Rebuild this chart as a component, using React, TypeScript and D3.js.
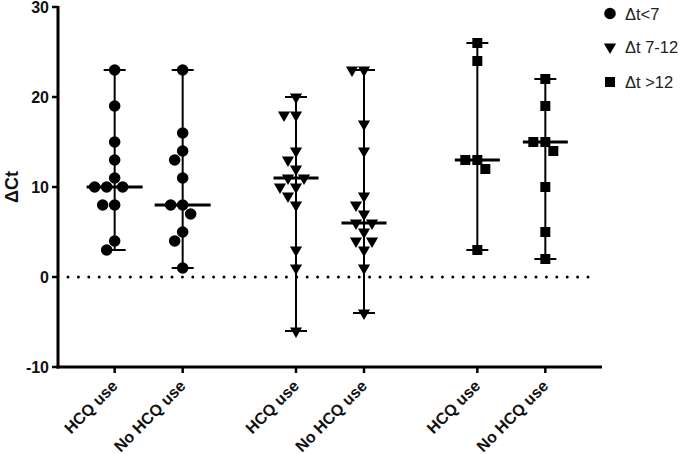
import React from 'react';
import * as d3 from 'd3';

// groups (legend) and the two conditions inside each group
const groups = ['Δt<7', 'Δt 7-12', 'Δt >12'];
const conditions = ['HCQ use', 'No HCQ use'];

// ΔCt values per column
const lt7Hcq = [23, 19, 15, 13, 11, 10, 10, 10, 8, 8, 4, 3];
const lt7NoHcq = [23, 16, 14, 13, 11, 8, 8, 7, 5, 4, 1];
const mid7Hcq = [20, 18, 18, 14, 13, 12, 11, 11, 10, 10, 9, 8, 3, 1, -6];
const mid7NoHcq = [23, 23, 17, 14, 9, 8, 7, 6, 6, 5, 4, 4, 3, 1, -4];
const gt12Hcq = [26, 24, 13, 13, 12, 3];
const gt12NoHcq = [22, 19, 15, 15, 14, 10, 5, 2];
// medians as drawn in the figure
const medians = [10, 8, 11, 6, 13, 15];

const yTicks = [-10, 0, 10, 20, 30];

const W = 685, H = 454;
const left = 58, right = 602, top = 7, bottom = 367;

const y = d3.scaleLinear().domain([-10, 30]).range([bottom, top]);
const xGroup = d3.scaleBand().domain(groups).range([left, right]).padding(0);
const xCond = d3.scalePoint().domain(conditions).range([-34, 34]);

const symbolTypes = [d3.symbolCircle, d3.symbolTriangle, d3.symbolSquare];
const symbolSizes = [105, 64, 100];
const medianHalf = [28, 22.5, 22.5];

const columnValues = [lt7Hcq, lt7NoHcq, mid7Hcq, mid7NoHcq, gt12Hcq, gt12NoHcq];
const columns = columnValues.map((values, i) => {
  const g = Math.floor(i / 2);
  const c = i % 2;
  return {
    g,
    label: conditions[c],
    cx: (xGroup(groups[g]) as number) + xGroup.bandwidth() / 2 + (xCond(conditions[c]) as number),
    values,
    median: medians[i],
  };
});

// simple beeswarm so equal values spread sideways
function swarm(values: number[], dist: number) {
  const placed: { dx: number; py: number; v: number }[] = [];
  const sorted = [...values].sort((a, b) => b - a);
  sorted.forEach(v => {
    const py = y(v);
    let dx = 0;
    for (let k = 0; k < 200; k++) {
      const cand = k === 0 ? 0 : (k % 2 ? -1 : 1) * Math.ceil(k / 2) * 0.5;
      const ok = placed.every(p => Math.hypot(p.dx - cand, p.py - py) >= dist);
      if (ok) { dx = cand; break; }
    }
    placed.push({ dx, py, v });
  });
  return placed;
}

const symbolPath = (g: number) => d3.symbol().type(symbolTypes[g]).size(symbolSizes[g])() as string;

const App = () => {
  const font = 'Liberation Sans, Arial, sans-serif';
  return (
    <svg width={W} height={H} style={{ position: 'absolute', left: 0, top: 0, background: '#fff' }}>
      {/* zero reference line */}
      <line x1={68} x2={594} y1={y(0)} y2={y(0)} stroke="#000" strokeWidth={3}
        strokeDasharray="0 10.4" strokeLinecap="round" />

      {/* columns */}
      {columns.map((col, i) => {
        const lo = d3.min(col.values) as number;
        const hi = d3.max(col.values) as number;
        const pts = swarm(col.values, 12);
        const mh = medianHalf[col.g];
        return (
          <g key={i}>
            <line x1={col.cx} x2={col.cx} y1={y(lo)} y2={y(hi)} stroke="#000" strokeWidth={2} />
            <line x1={col.cx - 11} x2={col.cx + 11} y1={y(hi)} y2={y(hi)} stroke="#000" strokeWidth={2} />
            <line x1={col.cx - 11} x2={col.cx + 11} y1={y(lo)} y2={y(lo)} stroke="#000" strokeWidth={2} />
            <line x1={col.cx - mh} x2={col.cx + mh} y1={y(col.median)} y2={y(col.median)} stroke="#000" strokeWidth={3} />
            {pts.map((p, j) => (
              <path key={j} d={symbolPath(col.g)} fill="#000"
                transform={`translate(${col.cx + p.dx},${p.py})${col.g === 1 ? ' rotate(180)' : ''}`} />
            ))}
          </g>
        );
      })}

      {/* y axis */}
      <line x1={left} x2={left} y1={top - 1} y2={bottom + 1.5} stroke="#000" strokeWidth={3} />
      {yTicks.map(t => (
        <g key={t}>
          <line x1={left - 6} x2={left} y1={y(t)} y2={y(t)} stroke="#000" strokeWidth={2.5} />
          <text x={left - 9} y={y(t) + 6} textAnchor="end" fontFamily={font} fontWeight="bold" fontSize={16} fill="#111">{t}</text>
        </g>
      ))}
      <text transform={`translate(18,${y(10)}) rotate(-90)`} textAnchor="middle" fontFamily={font}
        fontWeight="bold" fontSize={18} fill="#111">ΔCt</text>

      {/* x axis */}
      <line x1={left - 1.5} x2={right} y1={bottom} y2={bottom} stroke="#000" strokeWidth={3} />
      {columns.map((col, i) => (
        <g key={i}>
          <line x1={col.cx} x2={col.cx} y1={bottom} y2={bottom + 6} stroke="#000" strokeWidth={2.5} />
          <text transform={`translate(${col.cx + 4},${bottom + 20}) rotate(-45)`} textAnchor="end"
            fontFamily={font} fontWeight="bold" fontSize={16} fill="#111">{col.label}</text>
        </g>
      ))}

      {/* legend */}
      {groups.map((g, i) => {
        const ly = [13.5, 47, 82][i];
        return (
          <g key={g}>
            <path d={symbolPath(i)} fill="#000" transform={`translate(610,${ly})${i === 1 ? ' rotate(180)' : ''}`} />
            <text x={625} y={ly + 6} fontFamily={font} fontSize={16.5} fill="#222">{g}</text>
          </g>
        );
      })}
    </svg>
  );
};

export default App;
